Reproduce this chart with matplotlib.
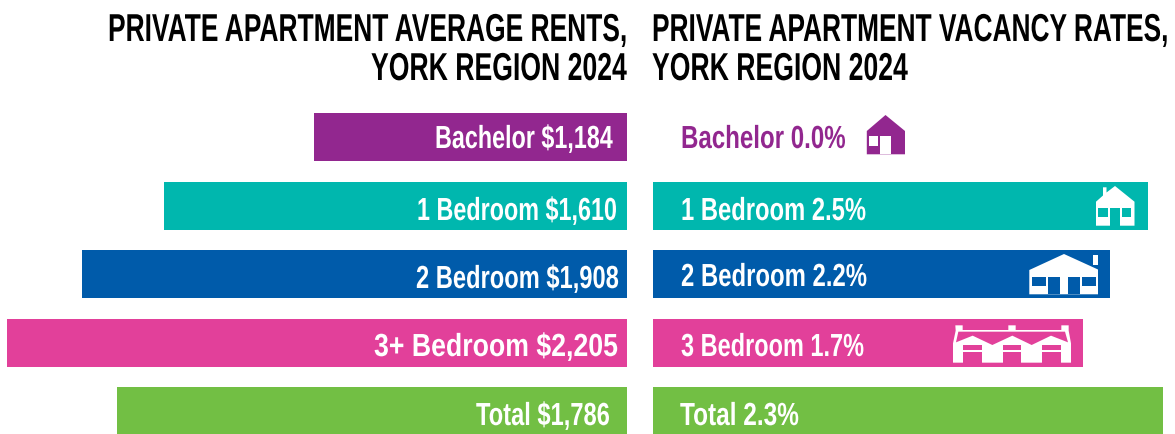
#!/usr/bin/env python3
"""Private apartment rents and vacancy rates, York Region 2024."""

import matplotlib

matplotlib.use("Agg")
import matplotlib.patheffects as pe
import matplotlib.pyplot as plt
from matplotlib.patches import Polygon, Rectangle
from matplotlib.transforms import Affine2D

W, H = 1175, 434
FONT = "Liberation Sans"

categories = ["Bachelor", "1 Bedroom", "2 Bedroom", "3+ Bedroom", "Total"]
vacancy_categories = ["Bachelor", "1 Bedroom", "2 Bedroom", "3 Bedroom", "Total"]
rent_labels = ["$1,184", "$1,610", "$1,908", "$2,205", "$1,786"]
vacancy_labels = ["0.0%", "2.5%", "2.2%", "1.7%", "2.3%"]
# the infographic's bars are not to scale with the printed numbers, so these are read off the bars
rent_bars = [1096, 1621, 1908, 2171, 1786]
vacancy_bars = [0.0, 2.235, 2.06, 1.94, 2.30]

colors = ["#92278F", "#00B7AE", "#005BAA", "#E2409A", "#72BF44"]
white = "white"


class Stretch(pe.AbstractPathEffect):
    """Make a text taller than its width, none of the installed fonts is condensed enough."""

    def __init__(self, sy):
        super().__init__()
        self.sy = sy

    def draw_path(self, renderer, gc, tpath, affine, rgbFace=None):
        renderer.draw_path(gc, tpath, Affine2D().scale(1, self.sy) + affine, rgbFace)


def px_axes(fig, left, right):
    return fig.add_axes([left / W, 0, (right - left) / W, 1])


def put_text(ax, fig, left, right, baseline, s, size, color, weight="bold"):
    # size is the look wanted in height, the real font size comes from the width to fill
    t = ax.text(left, baseline, s, fontsize=size, color=color, family=FONT, weight=weight,
                ha="left", va="baseline")
    natural = t.get_window_extent(fig.canvas.get_renderer()).width
    fitted = size * (right - left) / natural
    t.set_fontsize(fitted)
    t.set_path_effects([Stretch(size / fitted)])
    return t


def rects(ax, color, items):
    for x0, x1, y0, y1 in items:
        ax.add_patch(Rectangle((x0, y0), x1 - x0, y1 - y0, fc=color, ec="none", zorder=4))


def poly(ax, color, pts, z=3):
    ax.add_patch(Polygon(pts, closed=True, fc=color, ec="none", zorder=z))


def draw_icons(ax):
    # bachelor
    poly(ax, colors[0], [(866.8, 131), (885.5, 115), (905, 131), (905, 154.3), (866.8, 154.3)])
    rects(ax, white, [(868.5, 877.7, 136, 145.7), (880.4, 890.6, 136, 154.3)])

    # 1 bedroom
    poly(ax, white, [(1096, 201.7), (1103, 195.5), (1103, 187.3), (1106.5, 187.3), (1106.5, 192.5),
                     (1115, 186), (1134.5, 201.7), (1134.5, 225.7), (1096, 225.7)])
    rects(ax, colors[1], [(1098, 1107.9, 207.7, 217), (1121.5, 1131.4, 207.7, 217),
                          (1110, 1119.5, 207.7, 225.7)])

    # 2 bedroom
    poly(ax, white, [(1029.3, 270), (1064, 254), (1098, 269.5), (1098, 294.3), (1029.3, 294.3)])
    rects(ax, white, [(1093.3, 1098, 254.7, 265.3)])
    rects(ax, colors[2], [(1031.7, 1046, 276.7, 286.3), (1081.7, 1096, 276.7, 286.3),
                          (1048, 1060, 276.7, 294.3), (1068, 1079.7, 276.7, 294.3)])

    # 3 bedroom row houses, traced in the pixels of the crop
    def row(x, y):
        return 940 + x / 3, 240 + y / 3

    poly(ax, white, [row(*p) for p in [(39, 368), (39, 310), (47, 272), (46, 256), (68, 256), (68, 270),
                                       (205, 270), (205, 256), (227, 256), (227, 270), (364, 270),
                                       (364, 256), (386, 256), (386, 272), (393, 310), (393, 368)]])
    poly(ax, colors[3], [row(*p) for p in [(55, 275), (375, 275), (384, 307), (333, 287), (275, 315),
                                           (217, 287), (157, 315), (98, 287), (48, 307)]], z=4)
    for x0, x1 in [(70, 126), (188, 244), (306, 362)]:
        rects(ax, colors[3], [(row(x0, 0)[0], row(x1, 0)[0], row(0, 314)[1], row(0, 330)[1]),
                              (row(x0, 0)[0], row(x1, 0)[0], row(0, 336)[1], row(0, 368)[1])])


def main():
    fig = plt.figure(figsize=(W / 100, H / 100), dpi=100)

    # row i is centred at 137 + 68.6 * i pixels from the top
    ylim = ((H - 137) / 68.6, -137 / 68.6)
    y = range(len(categories))

    ax_rent = px_axes(fig, 0, 627)
    ax_rent.barh(y, rent_bars, height=0.7, color=colors)
    ax_rent.set_xlim(627 / 0.2856, 0)
    ax_rent.set_ylim(*ylim)
    ax_rent.axis("off")

    ax_vac = px_axes(fig, 653, W)
    ax_vac.barh(y, vacancy_bars, height=0.7, color=colors)
    ax_vac.set_xlim(0, (W - 653) / 221.7)
    ax_vac.set_ylim(*ylim)
    ax_vac.axis("off")

    ax = fig.add_axes([0, 0, 1, 1], zorder=5)
    ax.set_xlim(0, W)
    ax.set_ylim(H, 0)
    ax.axis("off")
    ax.patch.set_alpha(0)

    black = "#000000"
    put_text(ax, fig, 108, 627, 41, "PRIVATE APARTMENT AVERAGE RENTS,", 28, black)
    put_text(ax, fig, 371, 627, 80, "YORK REGION 2024", 28, black)
    put_text(ax, fig, 652, 1168, 41, "PRIVATE APARTMENT VACANCY RATES,", 28, black)
    put_text(ax, fig, 652, 908, 80, "YORK REGION 2024", 28, black)

    rent_x = [(435, 613), (417, 617), (416, 619), (374, 618), (476, 610)]
    vac_x = [(681, 846), (681, 866), (681, 867), (681, 864), (680, 799)]
    rent_base = [148, 220, 288, 356, 425]
    vac_base = [148, 220, 286, 356, 425]
    for i in y:
        put_text(ax, fig, *rent_x[i], rent_base[i], f"{categories[i]} {rent_labels[i]}", 23, white)
        vac_color = colors[0] if i == 0 else white
        put_text(ax, fig, *vac_x[i], vac_base[i], f"{vacancy_categories[i]} {vacancy_labels[i]}", 23, vac_color)

    draw_icons(ax)

    fig.savefig("out.png", dpi=100)


if __name__ == "__main__":
    main()
